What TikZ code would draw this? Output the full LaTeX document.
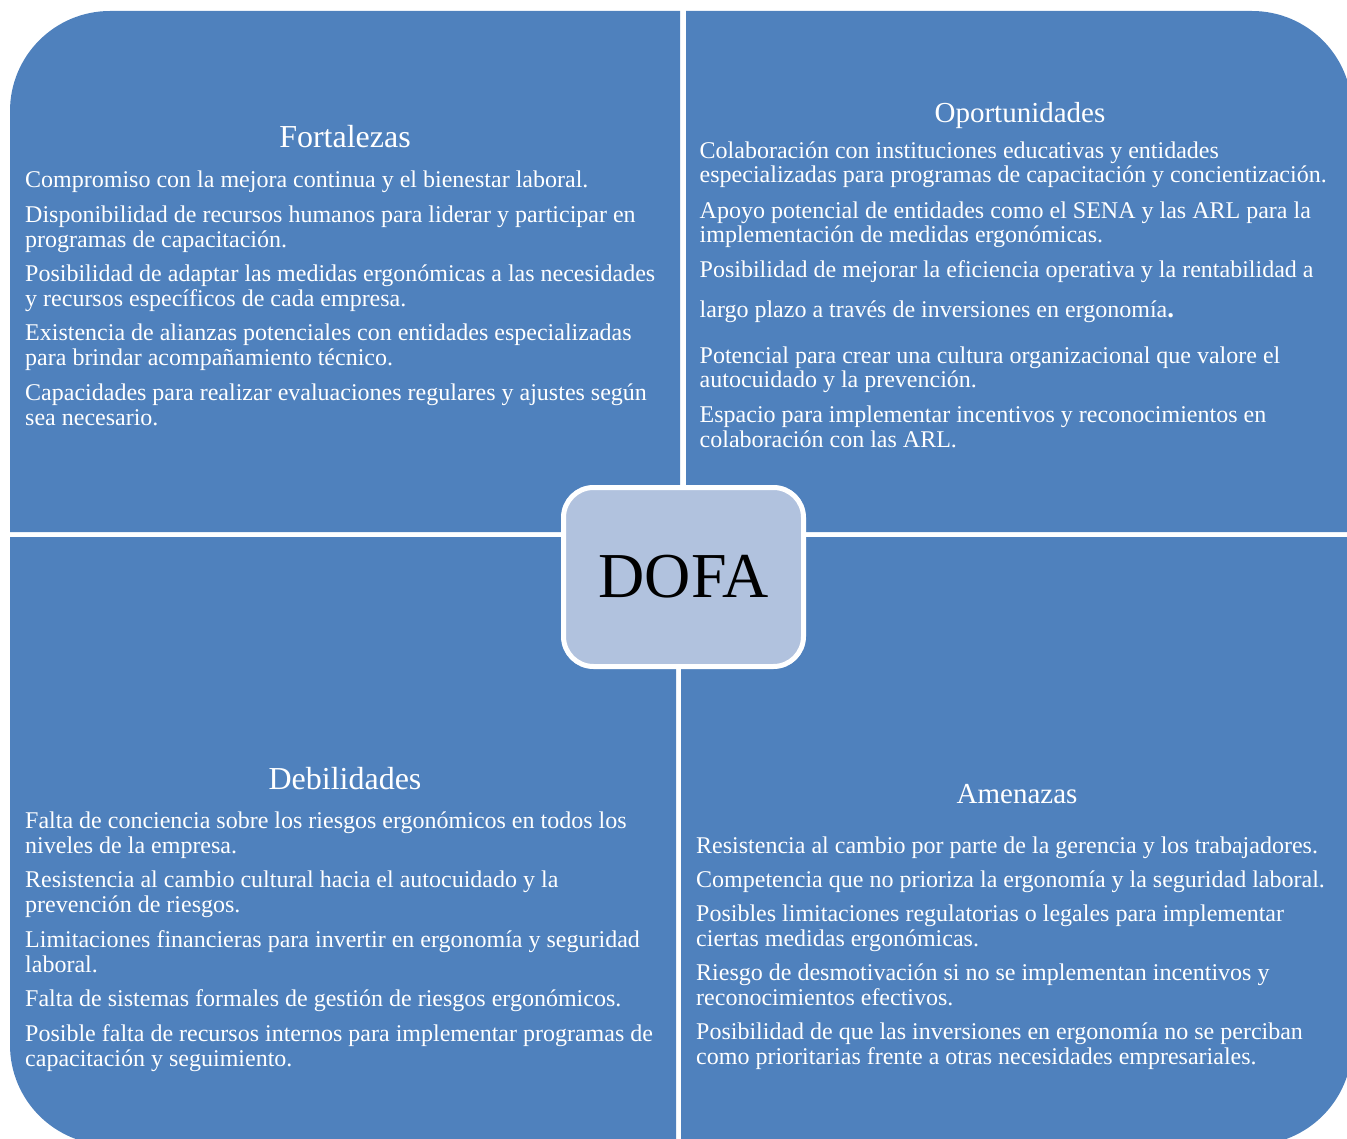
\documentclass[tikz,border=0pt]{standalone}
\usepackage{fontspec}
\setmainfont{Liberation Serif}
\definecolor{quadblue}{HTML}{4F81BD}
\definecolor{coreblue}{HTML}{B1C2DE}
\begin{document}
\begin{tikzpicture}[x=1pt,y=-1pt,
  quadfill/.style={fill=quadblue, draw=none},
  body/.style={anchor=base west, inner sep=0pt, align=left, text=white,
    font=\fontsize{24}{24.7}\selectfont},
  qtitle/.style={anchor=base, inner sep=0pt, text=white,
    font=\fontsize{29}{30}\selectfont},
  ltitle/.style={qtitle, font=\fontsize{32}{33}\selectfont},
  corebox/.style={draw=white, line width=5pt, fill=coreblue, rounded corners=30pt,
    minimum width=240pt, minimum height=179pt, inner sep=0pt,
    font=\fontsize{64}{64}\selectfont, text=black},
]
\useasboundingbox (0,0) rectangle (1347,1139);
\begin{scope}
\clip (0,0) rectangle (1347,1139);
% quadrants
\fill[quadfill] (10,532) -- (10,111) .. controls (10,55.77) and (54.77,11) .. (110,11)
  -- (680,11) -- (680,532) -- cycle;
\fill[quadfill] (686,532) -- (686,11) -- (1252,11) .. controls (1307.23,11) and (1352,55.77) .. (1352,111)
  -- (1352,532) -- cycle;
\fill[quadfill] (10,537) -- (676,537) -- (676,1145) -- (110,1145)
  .. controls (54.77,1145) and (10,1100.23) .. (10,1045) -- cycle;
\fill[quadfill] (681,537) -- (1352,537) -- (1352,1045)
  .. controls (1352,1100.23) and (1307.23,1145) .. (1252,1145) -- (681,1145) -- cycle;
\end{scope}

% Fortalezas (anchor = baseline of the last line)
\node[ltitle] (tf) at (345,148) {Fortalezas};
\node[body] (f1) at (25,188) {Compromiso con la mejora continua y el bienestar laboral.};
\node[body] (f2) at (25,247.7) {Disponibilidad de recursos humanos para liderar y participar en\\programas de capacitación.};
\node[body] (f3) at (25,306.7) {Posibilidad de adaptar las medidas ergonómicas a las necesidades\\y recursos específicos de cada empresa.};
\node[body] (f4) at (25,365.7) {Existencia de alianzas potenciales con entidades especializadas\\para brindar acompañamiento técnico.};
\node[body] (f5) at (25,425.2) {Capacidades para realizar evaluaciones regulares y ajustes según\\sea necesario.};

% Oportunidades
\node[qtitle] (to) at (1020,122.3) {Oportunidades};
\node[body] (o1) at (699.5,183) {Colaboración con instituciones educativas y entidades\\especializadas para programas de capacitación y concientización.};
\node[body] (o2) at (699.5,243) {Apoyo potencial de entidades como el SENA y las ARL para la\\implementación de medidas ergonómicas.};
\node[body] (o3) at (699.5,277.3) {Posibilidad de mejorar la eficiencia operativa y la rentabilidad a};
\node[body] (o3b) at (699.5,317.3) {largo plazo a través de inversiones en ergonomía{\bfseries\fontsize{27}{27}\selectfont.}};
\node[body] (o4) at (699.5,388) {Potencial para crear una cultura organizacional que valore el\\autocuidado y la prevención.};
\node[body] (o5) at (699.5,447) {Espacio para implementar incentivos y reconocimientos en\\colaboración con las ARL.};

% Debilidades
\node[ltitle] (td) at (345,789.3) {Debilidades};
\node[body] (d1) at (25,853) {Falta de conciencia sobre los riesgos ergonómicos en todos los\\niveles de la empresa.};
\node[body] (d2) at (25,912.2) {Resistencia al cambio cultural hacia el autocuidado y la\\prevención de riesgos.};
\node[body] (d3) at (25,972.2) {Limitaciones financieras para invertir en ergonomía y seguridad\\laboral.};
\node[body] (d4) at (25,1006.7) {Falta de sistemas formales de gestión de riesgos ergonómicos.};
\node[body] (d5) at (25,1066.2) {Posible falta de recursos internos para implementar programas de\\capacitación y seguimiento.};

% Amenazas
\node[qtitle] (ta) at (1017,803.3) {Amenazas};
\node[body] (a1) at (696,853.3) {Resistencia al cambio por parte de la gerencia y los trabajadores.};
\node[body] (a2) at (696,887.7) {Competencia que no prioriza la ergonomía y la seguridad laboral.};
\node[body] (a3) at (696,946.4) {Posibles limitaciones regulatorias o legales para implementar\\ciertas medidas ergonómicas.};
\node[body] (a4) at (696,1005.5) {Riesgo de desmotivación si no se implementan incentivos y\\reconocimientos efectivos.};
\node[body] (a5) at (696,1064.5) {Posibilidad de que las inversiones en ergonomía no se perciban\\como prioritarias frente a otras necesidades empresariales.};

% centre
\node[corebox] (dofa) at (683.5,577) {DOFA};
\end{tikzpicture}
\end{document}
